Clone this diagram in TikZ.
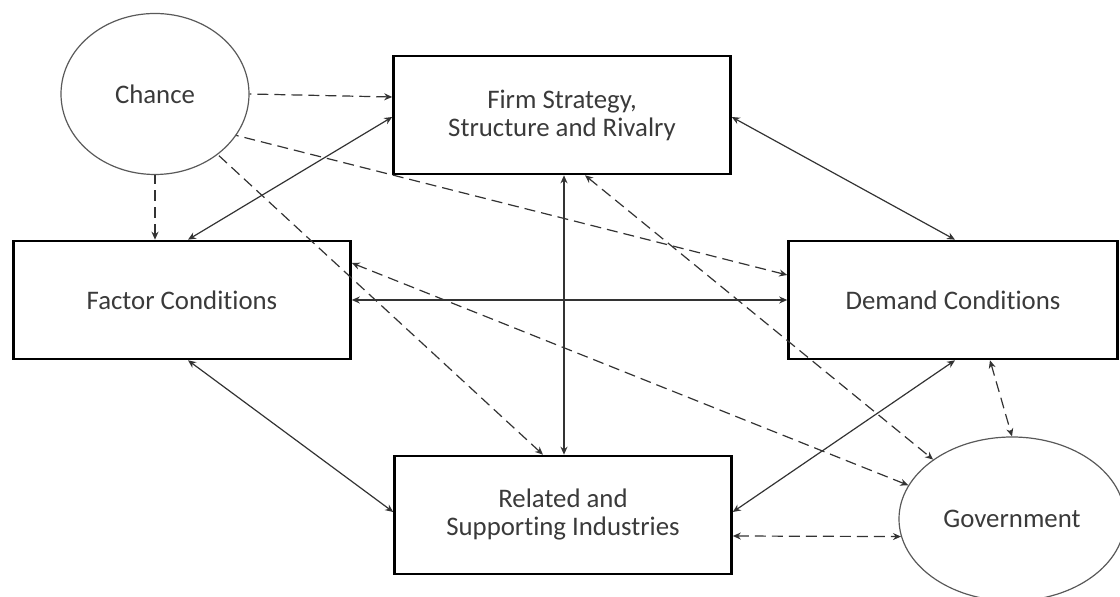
\documentclass[tikz,border=0pt]{standalone}
\usepackage{fontspec}
\setmainfont{Carlito}[Ligatures=NoCommon, RawFeature={-liga;-clig;-calt}]
\usepackage{xcolor}
\usetikzlibrary{arrows.meta, shapes.geometric}
\definecolor{txtgray}{HTML}{3A3A3A}

\begin{document}
\begin{tikzpicture}[x=0.5pt, y=-0.5pt, >={Stealth[length=4pt,width=3.5pt]},
    every node/.style={font=\fontsize{13.4}{14}\selectfont, text=txtgray, align=center},
    box/.style={rectangle, draw=black, line width=1.3pt, minimum width=168.5pt, minimum height=59pt},
    oval/.style={ellipse, draw=black!65, line width=0.6pt},
    link/.style={<->, draw=black!80, line width=0.6pt},
    dlink/.style={link, dash pattern=on 5.5pt off 3pt}]
        \useasboundingbox (0,0) rectangle (1120,597);
        \clip (0,0) rectangle (1120,597);
        \node[oval, minimum width=94pt, minimum height=80.5pt] (chance) at (155,94) {Chance};
        \node[box] (firm) at (562,115) {Firm Strategy,\\Structure and Rivalry};
        \node[box] (factor) at (182,300) {Factor Conditions};
        \node[box, minimum width=164.5pt] (demand) at (953,300) {Demand Conditions};
        \node[box] (related) at (563,515) {Related and\\Supporting Industries};
        \node[oval, minimum width=113pt, minimum height=82pt] (gov) at (1012,519) {Government};
        % Chance
        \draw[dlink, <-] ([yshift=9pt]firm.west) -- (chance.east);
        \draw[dlink, <-] (chance.south |- factor.north) -- (chance.south);
        \draw[dlink, <-] ([yshift=12.5pt]demand.west) -- (chance.-27);
        \draw[dlink, <-] ([xshift=-10pt]related.north) -- (chance.-44);
        % Diamond
        \draw[link] ([yshift=-1pt]firm.west) -- ([xshift=3pt]factor.north);
        \draw[link] ([yshift=-1pt]firm.east) -- ([xshift=1pt]demand.north);
        \draw[link] ([xshift=1pt]firm.south) -- ([xshift=1pt]firm.south |- related.north);
        \draw[link] (factor.east) -- (demand.west);
        \draw[link] ([xshift=3pt]factor.south) -- ([yshift=1.5pt]related.west);
        \draw[link] ([xshift=1pt]demand.south) -- ([yshift=1.5pt]related.east);
        % Government
        \draw[dlink] ([xshift=18.5pt]demand.south) -- (gov.north);
        \draw[dlink] ([yshift=-10.5pt]related.east) -- (gov.189);
        \draw[dlink] ([xshift=11.5pt]firm.south) -- (gov.143);
        \draw[dlink] ([yshift=18.5pt]factor.east) -- (gov.162);
\end{tikzpicture}
\end{document}
